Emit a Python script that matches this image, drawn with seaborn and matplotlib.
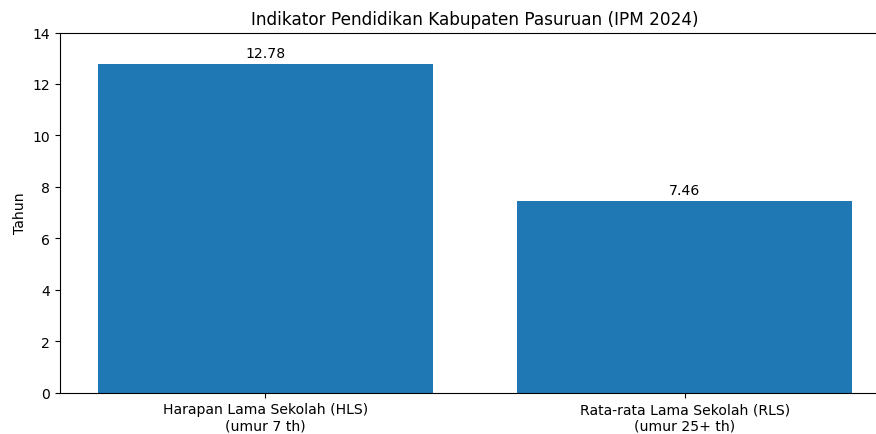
import matplotlib
matplotlib.use("Agg")
import matplotlib.pyplot as plt
import seaborn as sns
import pandas as pd

indikator = ["Harapan Lama Sekolah (HLS)\n(umur 7 th)", "Rata-rata Lama Sekolah (RLS)\n(umur 25+ th)"]
tahun = [12.78, 7.46]

df = pd.DataFrame({"Indikator": indikator, "Tahun": tahun})

plt.rcParams["font.size"] = 10.12

fig = plt.figure(figsize=(8.76, 4.35), dpi=100)
# axes runs a bit past the right edge, like the reference crop
ax = fig.add_axes([60 / 876, 41.5 / 435, 830 / 876, 360 / 435])

sns.barplot(data=df, x="Indikator", y="Tahun", color="#1f77b4", saturation=1, width=0.8, ax=ax)
ax.bar_label(ax.containers[0], fmt="%.2f", padding=3, fontsize=10.12)

ax.set_xlim(-0.49, 1.49)
ax.set_ylim(0, 14)
ax.set_xlabel("")
ax.set_ylabel("Tahun")
ax.set_title("Indikator Pendidikan Kabupaten Pasuruan (IPM 2024)")

fig.savefig("out.png", dpi=100)
